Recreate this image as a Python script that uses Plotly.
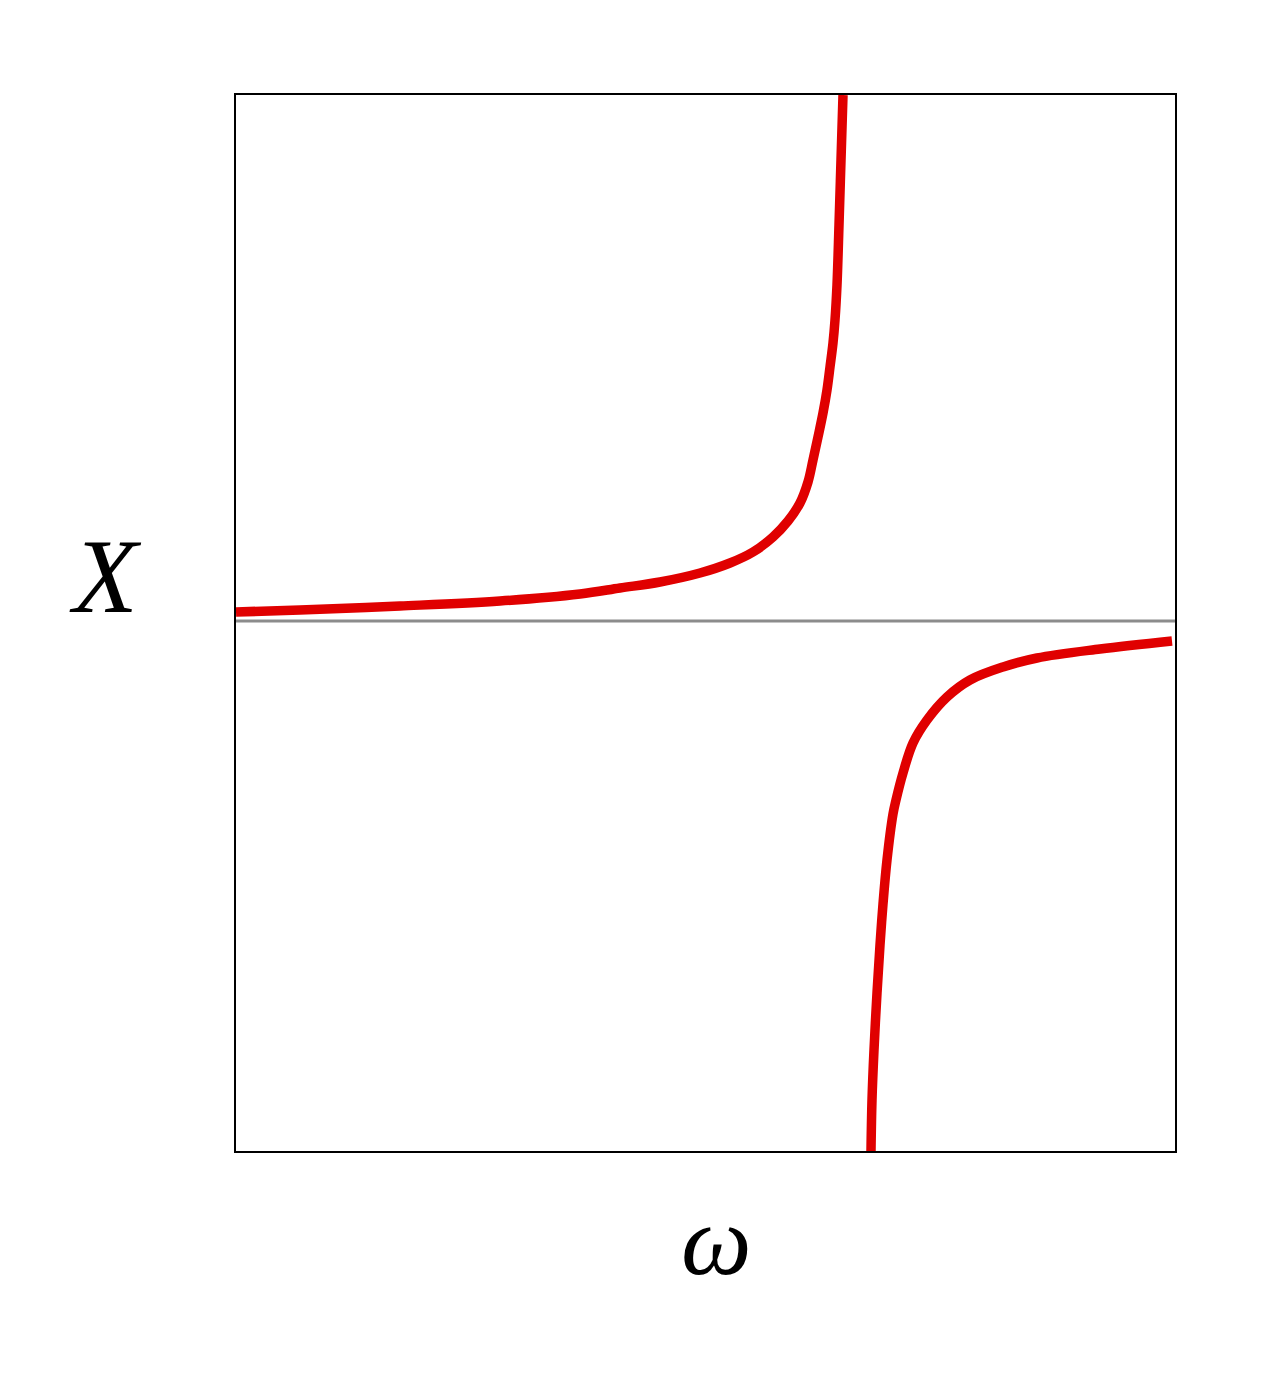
import plotly.graph_objects as go

# Left branch (below the pole)
omega_left = [0.00, 0.64, 1.64, 2.64, 3.44, 3.84, 4.24, 4.64, 4.94, 5.17, 5.37, 5.52,
              5.64, 5.72, 5.77, 5.82, 5.87, 5.91, 5.94, 5.97, 5.99, 6.01, 6.03, 6.05, 6.07]
x_left = [0.09, 0.11, 0.15, 0.20, 0.27, 0.33, 0.39, 0.48, 0.58, 0.69, 0.84, 1.00,
          1.18, 1.39, 1.61, 1.84, 2.08, 2.31, 2.54, 2.78, 3.01, 3.36, 3.96, 4.61, 5.26]

# Right branch (above the pole)
omega_right = [6.35, 6.36, 6.38, 6.41, 6.44, 6.47, 6.51, 6.57, 6.60, 6.67, 6.77, 6.91,
               7.11, 7.34, 7.67, 8.01, 8.64, 9.36]
x_right = [-5.30, -4.79, -4.29, -3.72, -3.24, -2.83, -2.39, -1.93, -1.79, -1.52, -1.22, -0.99,
           -0.76, -0.59, -0.46, -0.37, -0.28, -0.20]

omega_range = [0.0, 9.39]
x_range = [-5.30, 5.26]

red = "#e00000"

fig = go.Figure()
fig.add_trace(go.Scatter(x=omega_range, y=[0, 0], mode="lines",
                         line=dict(color="#8c8c8c", width=3), hoverinfo="skip"))
fig.add_trace(go.Scatter(x=omega_left, y=x_left, mode="lines",
                         line=dict(color=red, width=9.5, shape="spline", smoothing=1.0)))
fig.add_trace(go.Scatter(x=omega_right, y=x_right, mode="lines",
                         line=dict(color=red, width=9.5, shape="spline", smoothing=1.0)))

axis_common = dict(showgrid=False, zeroline=False, showticklabels=False, ticks="",
                   showline=True, linecolor="black", linewidth=1.5, mirror=True)

fig.update_layout(
    width=1280, height=1373,
    margin=dict(l=228, r=113, t=87, b=230),
    plot_bgcolor="white", paper_bgcolor="white",
    showlegend=False,
    xaxis=dict(range=omega_range, **axis_common),
    yaxis=dict(range=x_range, **axis_common),
    annotations=[
        dict(text="<i>X</i>", xref="paper", yref="paper", x=-0.1395, y=0.544,
             showarrow=False, xanchor="center", yanchor="middle",
             font=dict(family="Liberation Serif", size=106, color="black")),
        dict(text="<i>ω</i>", xref="paper", yref="paper", x=0.512, y=-0.085,
             showarrow=False, xanchor="center", yanchor="middle",
             font=dict(family="Liberation Serif", size=100, color="black")),
    ],
)

fig.write_html("out.html")
